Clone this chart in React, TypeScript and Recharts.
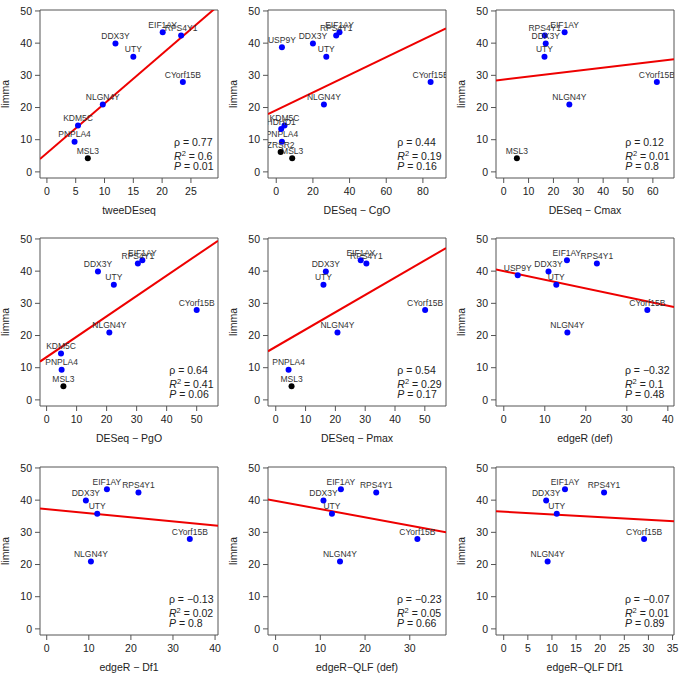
import React from 'react';
import { ScatterChart, Scatter, XAxis, YAxis, ReferenceLine, ReferenceArea, Customized } from 'recharts';

// genes and their limma scores (y on every panel)
const genes = ['EIF1AY', 'RPS4Y1', 'DDX3Y', 'UTY', 'CYorf15B', 'NLGN4Y', 'KDM5C', 'PNPLA4', 'MSL3', 'USP9Y', 'HDHD1', 'ZRSR2'];
const limma = [43.4, 42.4, 39.9, 35.8, 27.9, 20.9, 14.4, 9.4, 4.2, 38.7, 13.3, 6.2];
const blackGenes = ['MSL3', 'ZRSR2'];

type V = number | null;
// x scores per method, same gene order (null = gene not shown)
const tweeDEseq: V[] = [20.1, 23.3, 11.9, 15.0, 23.6, 9.7, 5.4, 4.8, 7.1, null, null, null];
const deseqCgO: V[] = [34.5, 32.7, 20.0, 27.3, 84.2, 26.0, 4.5, 3.1, 8.7, 3.1, 2.7, 2.4];
const deseqCmax: V[] = [24.5, 16.5, 16.9, 16.4, 61.6, 26.4, null, null, 5.3, null, null, null];
const deseqPgO: V[] = [31.9, 30.4, 17.1, 22.4, 50.0, 20.9, 4.8, 5.0, 5.6, null, null, null];
const deseqPmax: V[] = [28.5, 30.4, 16.8, 16.0, 50.1, 20.7, null, 4.3, 5.3, null, null, null];
const edgeRDef: V[] = [15.4, 22.7, 10.9, 12.8, 35.0, 15.5, null, null, null, 3.4, null, null];
const edgeRDf1: V[] = [14.3, 21.8, 9.3, 12.0, 34.0, 10.5, null, null, null, null, null, null];
const qlfDef: V[] = [14.6, 22.5, 10.7, 12.6, 31.7, 14.4, null, null, null, null, null, null];
const qlfDf1: V[] = [12.7, 20.8, 8.8, 11.0, 29.1, 9.1, null, null, null, null, null, null];

const methodValues = [tweeDEseq, deseqCgO, deseqCmax, deseqPgO, deseqPmax, edgeRDef, edgeRDf1, qlfDef, qlfDf1];
const xTitles = ['tweeDEseq', 'DESeq \u2212 CgO', 'DESeq \u2212 Cmax', 'DESeq \u2212 PgO', 'DESeq \u2212 Pmax', 'edgeR (def)', 'edgeR \u2212 Df1', 'edgeR\u2212QLF (def)', 'edgeR\u2212QLF Df1'];
const xDomains = [[-1.2, 29.7], [-4.5, 92.6], [-3.1, 68.5], [-2.2, 57.1], [-2.6, 57.1], [-1.9, 41.5], [-1.6, 40.7], [-1.7, 38.1], [-1.6, 35.3]];
const xTicks = [
  [0, 5, 10, 15, 20, 25],
  [0, 20, 40, 60, 80],
  [0, 10, 20, 30, 40, 50, 60],
  [0, 10, 20, 30, 40, 50],
  [0, 10, 20, 30, 40, 50],
  [0, 10, 20, 30, 40],
  [0, 10, 20, 30, 40],
  [0, 10, 20, 30],
  [0, 5, 10, 15, 20, 25, 30, 35],
];
const yTicks = [0, 10, 20, 30, 40, 50];
const yDomain = [-1.9, 50.3];

// fitted line limma ~ method
const fitIntercepts = [5.85, 19.2, 28.7, 13.3, 16.5, 40.0, 37.2, 39.8, 36.4];
const fitSlopes = [1.54, 0.274, 0.092, 0.633, 0.537, -0.268, -0.126, -0.257, -0.084];

const rhoLabels = ['0.77', '0.44', '0.12', '0.64', '0.54', '\u22120.32', '\u22120.13', '\u22120.23', '\u22120.07'];
const r2Labels = ['0.6', '0.19', '0.01', '0.41', '0.29', '0.1', '0.02', '0.05', '0.01'];
const pLabels = ['0.01', '0.16', '0.8', '0.06', '0.17', '0.48', '0.8', '0.66', '0.89'];

const FONT = '"Liberation Sans", Arial, Helvetica, sans-serif';
const TXT = '#222';
const AXIS = '#555';
const PANEL = 228;
const MARGIN = { top: 10, right: 10, bottom: 0, left: 0 };
const Y_AXIS_W = 40;
const X_AXIS_H = 50;

let ctx: CanvasRenderingContext2D | null = null;
function textWidth(s: string, size: number) {
  if (!ctx) ctx = document.createElement('canvas').getContext('2d');
  if (!ctx) return s.length * size * 0.55;
  ctx.font = `${size}px ${FONT}`;
  return ctx.measureText(s).width;
}

// point + gene name, name clipped to the plot box like R's text()
const Dot = (p: any) => (
  <g>
    <circle cx={p.cx} cy={p.cy} r={3} fill={p.payload.black ? '#000' : '#0000ff'} />
    <text
      x={p.cx}
      y={p.cy - 4.3}
      textAnchor="middle"
      fontSize={8.5}
      fill="#333"
      clipPath={`url(#labelclip${p.payload.panel})`}
    >
      {p.payload.name}
    </text>
  </g>
);

function LabelClip({ i }: { i: number }) {
  return (
    <defs>
      <clipPath id={`labelclip${i}`}>
        <rect
          x={MARGIN.left + Y_AXIS_W}
          y={MARGIN.top}
          width={PANEL - MARGIN.left - MARGIN.right - Y_AXIS_W}
          height={PANEL - MARGIN.top - MARGIN.bottom - X_AXIS_H}
        />
      </clipPath>
    </defs>
  );
}

function Stats({ i }: { i: number }) {
  const fs = 10.5;
  const rho = `\u03c1 = ${rhoLabels[i]}`;
  const r2 = ` = ${r2Labels[i]}`;
  const p = ` = ${pLabels[i]}`;
  const w = Math.max(
    textWidth(rho, fs),
    textWidth('R' + r2, fs) + textWidth('2', 7.5),
    textWidth('P' + p, fs)
  );
  const left = 213.5 - w;
  return (
    <g fontSize={fs} fill={TXT}>
      <text x={left} y={146}>{rho}</text>
      <text x={left} y={159.5}>
        <tspan fontStyle="italic">R</tspan>
        <tspan fontSize={7.5} dy={-4}>2</tspan>
        <tspan dy={4}>{r2}</tspan>
      </text>
      <text x={left} y={169.5}>
        <tspan fontStyle="italic">P</tspan>
        <tspan>{p}</tspan>
      </text>
    </g>
  );
}

function Panel({ i }: { i: number }) {
  const xs = methodValues[i];
  const data = genes
    .map((g, k) => ({ name: g, x: xs[k], y: limma[k], black: blackGenes.includes(g), panel: i }))
    .filter((d) => d.x !== null);
  const [x0, x1] = xDomains[i];
  const a = fitIntercepts[i];
  const b = fitSlopes[i];

  return (
    <ScatterChart width={PANEL} height={PANEL} margin={MARGIN}>
      <Customized component={<LabelClip i={i} />} />
      <XAxis
        type="number"
        dataKey="x"
        domain={[x0, x1]}
        ticks={xTicks[i]}
        interval={0}
        allowDataOverflow
        height={X_AXIS_H}
        axisLine={false}
        tickSize={5}
        tickMargin={5}
        tickLine={{ stroke: AXIS }}
        tick={{ fill: TXT, fontSize: 10.5 }}
        label={{ value: xTitles[i], position: 'insideBottom', offset: 14, fill: TXT, fontSize: 10.5 }}
      />
      <YAxis
        type="number"
        dataKey="y"
        domain={yDomain}
        ticks={yTicks}
        interval={0}
        allowDataOverflow
        width={Y_AXIS_W}
        axisLine={false}
        tickSize={5}
        tickMargin={3}
        tickLine={{ stroke: AXIS }}
        tick={{ fill: TXT, fontSize: 10.5 }}
        label={{ value: 'limma', angle: -90, position: 'insideLeft', offset: 5, fill: TXT, fontSize: 10.5, style: { textAnchor: 'middle' } }}
      />
      <ReferenceArea x1={x0} x2={x1} y1={yDomain[0]} y2={yDomain[1]} fill="none" stroke={AXIS} strokeWidth={1} />
      <Scatter data={data} isAnimationActive={false} shape={Dot} />
      <ReferenceLine
        segment={[{ x: x0, y: a + b * x0 }, { x: x1, y: a + b * x1 }]}
        stroke="#ee0000"
        strokeWidth={2}
        ifOverflow="hidden"
      />
      <Customized component={<Stats i={i} />} />
    </ScatterChart>
  );
}

const rowTops = [0, 228, 457];
const colLefts = [0, 228, 456];

export default function App() {
  return (
    <div style={{ position: 'absolute', left: 0, top: 0, width: 685, height: 685, background: '#fff', fontFamily: FONT }}>
      {methodValues.map((_, i) => (
        <div key={i} style={{ position: 'absolute', left: colLefts[i % 3], top: rowTops[Math.floor(i / 3)] }}>
          <Panel i={i} />
        </div>
      ))}
    </div>
  );
}
